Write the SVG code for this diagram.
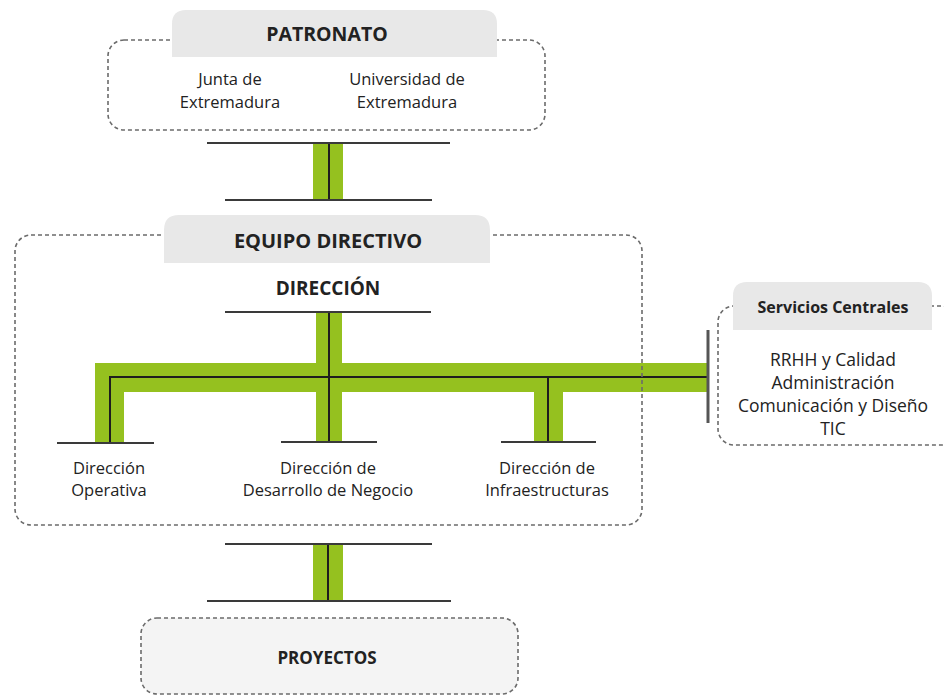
<svg xmlns="http://www.w3.org/2000/svg" width="944" height="698" viewBox="0 0 944 698">
<style>
.box{fill:none;stroke:#6b6b6b;stroke-width:1.6;stroke-dasharray:4 3}
.hdr{fill:#e8e8e8}
.t{font-family:"Open Sans","Noto Sans",sans-serif;fill:#222;text-anchor:middle}
.r{font-size:16.5px}
.b{font-weight:bold}
.g{fill:#95c11f}
.k{stroke:#1e1e1e;stroke-width:2;fill:none}
.h{stroke:#3a3a3a;stroke-width:2}
</style>
<rect width="944" height="698" fill="#fff"/>
<g id="connectors">
  <rect class="g" x="313" y="143" width="30" height="57"/>
  <line class="k" x1="329" y1="143" x2="329" y2="200"/>
  <line class="h" x1="207" y1="143" x2="450" y2="143"/>
  <line class="h" x1="225" y1="200" x2="432" y2="200"/>
  <path class="g" d="M316,312 H342 V363 H708 V392 H563 V442 H534 V392 H342 V442 H316 V392 H124 V443 H95 V363 H316 Z"/>
  <path class="k" d="M110,443 V377 H708"/>
  <line class="k" x1="329" y1="312" x2="329" y2="442"/>
  <line class="k" x1="548" y1="377" x2="548" y2="442"/>
  <line class="h" x1="225" y1="312" x2="431" y2="312"/>
  <line class="h" x1="57" y1="443" x2="154" y2="443"/>
  <line class="h" x1="281" y1="442" x2="377" y2="442"/>
  <line class="h" x1="501" y1="442" x2="596" y2="442"/>
  <line stroke="#555" stroke-width="3" x1="708" y1="330" x2="708" y2="423"/>
  <rect class="g" x="313" y="544" width="30" height="57"/>
  <line class="k" x1="328" y1="544" x2="328" y2="601"/>
  <line class="h" x1="225" y1="544" x2="432" y2="544"/>
  <line class="h" x1="207" y1="601" x2="451" y2="601"/>
</g>
<g id="patronato">
  <rect class="box" x="108" y="40" width="437" height="90" rx="16"/>
  <path class="hdr" d="M172,57 V24 Q172,10 186,10 H483 Q497,10 497,24 V57 Z"/>
  <text class="t b" x="327" y="41" font-size="19.5">PATRONATO</text>
  <text class="t r" x="230" y="85">Junta de</text>
  <text class="t r" x="230" y="108">Extremadura</text>
  <text class="t r" x="407" y="85">Universidad de</text>
  <text class="t r" x="407" y="108">Extremadura</text>
</g>
<g id="equipo">
  <rect class="box" x="15" y="235" width="627" height="290" rx="16"/>
  <path class="hdr" d="M164,263 V230 Q164,215 179,215 H475 Q490,215 490,230 V263 Z"/>
  <text class="t b" x="328" y="248" font-size="20">EQUIPO DIRECTIVO</text>
</g>
<g id="direccion">
  <text class="t b" x="328" y="295" font-size="19">DIRECCIÓN</text>
</g>
<g id="operativa">
  <text class="t r" x="109" y="474">Dirección</text>
  <text class="t r" x="109" y="496">Operativa</text>
</g>
<g id="desarrollo">
  <text class="t r" x="328" y="474">Dirección de</text>
  <text class="t r" x="328" y="496">Desarrollo de Negocio</text>
</g>
<g id="infraestructuras">
  <text class="t r" x="547" y="474">Dirección de</text>
  <text class="t r" x="547" y="496">Infraestructuras</text>
</g>
<g id="servicios">
  <rect class="box" x="718" y="306" width="240" height="139" rx="16"/>
  <path class="hdr" d="M733,330 V296 Q733,282 747,282 H918 Q932,282 932,296 V330 Z"/>
  <text class="t b" x="833" y="313" font-size="16">Servicios Centrales</text>
  <text class="t" x="833" y="366" font-size="17.5">RRHH y Calidad</text>
  <text class="t" x="833" y="389" font-size="17.5">Administración</text>
  <text class="t" x="833" y="412" font-size="17.5">Comunicación y Diseño</text>
  <text class="t" x="833" y="435" font-size="17.5">TIC</text>
</g>
<g id="proyectos">
  <rect x="141" y="618" width="377" height="76" rx="16" fill="#f4f4f4" stroke="#6b6b6b" stroke-width="1.6" stroke-dasharray="4 3"/>
  <text class="t b" x="327" y="664" font-size="17">PROYECTOS</text>
</g>
</svg>
